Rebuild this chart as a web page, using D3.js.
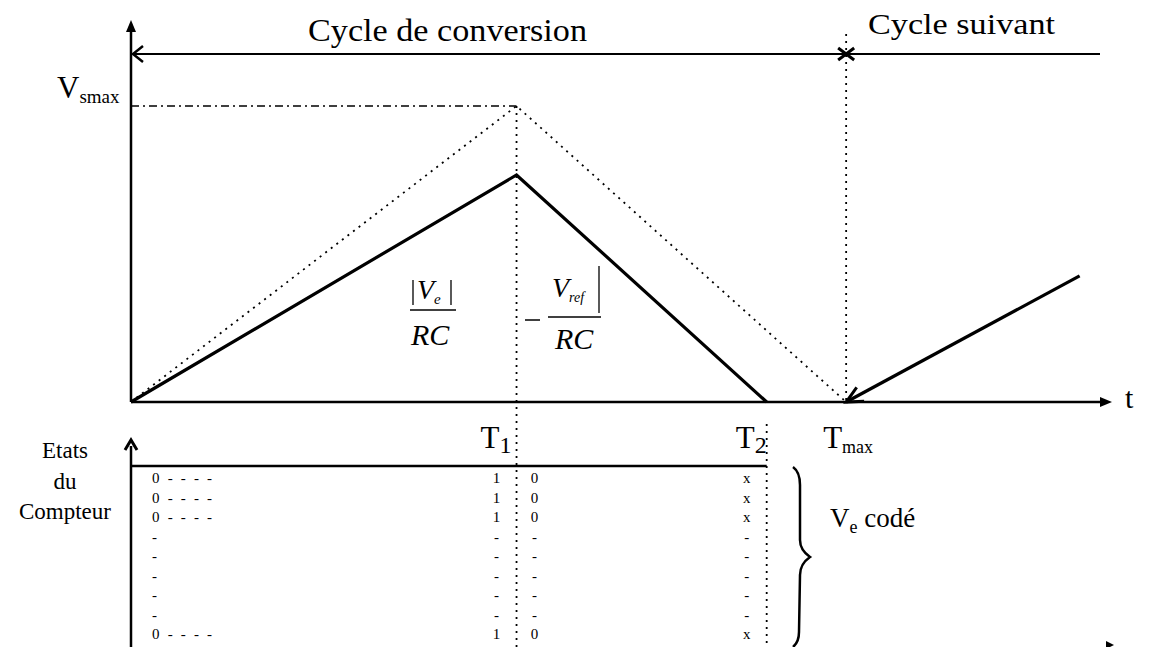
<!DOCTYPE html>
<html>
<head>
<meta charset="utf-8">
<script src="https://cdn.jsdelivr.net/npm/d3@7"></script>
<style>
  html, body { margin: 0; padding: 0; background: #fff; }
  svg { display: block; font-family: "Liberation Serif", "DejaVu Serif", serif; }
</style>
</head>
<body>
<svg id="chart" width="1152" height="647"></svg>
<script>
// Timing marks (t units) and voltage levels (Vsmax = 100)
var T1 = 39.3, T2 = 64.8, TMAX = 72.9, TNEXT = 96.7;
var VSMAX = 100, VPEAK = 76.7, VNEXT = 42.6;

// integrator output (solid) for this cycle and next cycle start
var rampActual = [[0, 0], [T1, VPEAK], [T2, 0]];
var rampMax = [[0, 0], [T1, VSMAX], [TMAX, 0]];
var rampNext = [[TMAX, 0], [TNEXT, VNEXT]];

// counter states, rows top to bottom
var colStart = ['0 - - - -', '0 - - - -', '0 - - - -', '-', '-', '-', '-', '-', '0 - - - -'];
var colT1a = ['1', '1', '1', '-', '-', '-', '-', '-', '1'];
var colT1b = ['0', '0', '0', '-', '-', '-', '-', '-', '0'];
var colT2 = ['x', 'x', 'x', '-', '-', '-', '-', '-', 'x'];

var svg = d3.select('#chart');

var x = d3.scaleLinear().domain([0, 100]).range([131, 1112]);
var y = d3.scaleLinear().domain([0, VSMAX]).range([402, 106]);
var rowY = d3.scalePoint().domain(d3.range(colStart.length)).range([478, 634]);

var line = d3.line()
  .x(function (d) { return x(d[0]); })
  .y(function (d) { return y(d[1]); });

var dotted = '2,5';

// --- upper panel ---
// vertical axis
svg.append('line').attr('x1', x(0)).attr('x2', x(0)).attr('y1', 402).attr('y2', 28)
  .attr('stroke', '#000').attr('stroke-width', 2.5);
svg.append('path').attr('d', 'M' + (x(0) - 5) + ',32L' + x(0) + ',20L' + (x(0) + 5) + ',32Z').attr('fill', '#000');

// t axis
svg.append('line').attr('x1', x(0)).attr('x2', x(100) - 8).attr('y1', y(0)).attr('y2', y(0))
  .attr('stroke', '#000').attr('stroke-width', 2.5);
svg.append('path').attr('d', 'M' + (x(100) - 12) + ',' + (y(0) - 5) + 'L' + x(100) + ',' + y(0) + 'L' + (x(100) - 12) + ',' + (y(0) + 5) + 'Z')
  .attr('fill', '#000');
svg.append('text').attr('x', 1125).attr('y', y(0) + 6).style('font-size', '30px').text('t');

// cycle arrow line
svg.append('line').attr('x1', x(0)).attr('x2', 1100).attr('y1', 54).attr('y2', 54)
  .attr('stroke', '#000').attr('stroke-width', 2.2);
svg.append('path').attr('d', 'M' + (x(0) + 12) + ',46L' + (x(0) + 2) + ',54L' + (x(0) + 12) + ',62')
  .attr('fill', 'none').attr('stroke', '#000').attr('stroke-width', 2.5);
svg.append('path').attr('d', 'M' + (x(TMAX) - 8) + ',48L' + (x(TMAX) + 8) + ',60M' + (x(TMAX) - 8) + ',60L' + (x(TMAX) + 8) + ',48')
  .attr('fill', 'none').attr('stroke', '#000').attr('stroke-width', 3);
svg.append('text').attr('x', 308).attr('y', 41).style('font-size', '31px')
  .attr('textLength', 279).attr('lengthAdjust', 'spacingAndGlyphs').text('Cycle de conversion');
svg.append('text').attr('x', 868).attr('y', 34).style('font-size', '29px')
  .attr('textLength', 187).attr('lengthAdjust', 'spacingAndGlyphs').text('Cycle suivant');

// Vsmax reference
svg.append('line').attr('x1', x(0)).attr('x2', x(T1)).attr('y1', y(VSMAX)).attr('y2', y(VSMAX))
  .attr('stroke', '#000').attr('stroke-width', 1.4).attr('stroke-dasharray', '8,4,2,4');
var vs = svg.append('text').attr('x', 57).attr('y', 98).style('font-size', '31px');
vs.append('tspan').text('V');
vs.append('tspan').attr('dy', 5).style('font-size', '19px').text('smax');

// vertical time markers
svg.append('line').attr('x1', x(T1)).attr('x2', x(T1)).attr('y1', y(VSMAX)).attr('y2', 647)
  .attr('stroke', '#000').attr('stroke-width', 1.8).attr('stroke-dasharray', dotted);
svg.append('line').attr('x1', x(TMAX)).attr('x2', x(TMAX)).attr('y1', 34).attr('y2', y(0))
  .attr('stroke', '#000').attr('stroke-width', 1.8).attr('stroke-dasharray', dotted);
svg.append('line').attr('x1', x(T2)).attr('x2', x(T2)).attr('y1', 424).attr('y2', 647)
  .attr('stroke', '#000').attr('stroke-width', 1.8).attr('stroke-dasharray', dotted);

// ramps
svg.append('path').attr('d', line(rampMax)).attr('fill', 'none')
  .attr('stroke', '#000').attr('stroke-width', 1.8).attr('stroke-dasharray', dotted);
svg.append('path').attr('d', line(rampActual)).attr('fill', 'none')
  .attr('stroke', '#000').attr('stroke-width', 3.2).attr('stroke-linejoin', 'miter');
svg.append('path').attr('d', line(rampNext)).attr('fill', 'none')
  .attr('stroke', '#000').attr('stroke-width', 3.2);
// arrowhead at Tmax on next ramp
var ang = Math.atan2(y(rampNext[1][1]) - y(0), x(rampNext[1][0]) - x(TMAX));
var ax = x(TMAX), ay = y(0);
function pt(a, r) { return (ax + r * Math.cos(a)) + ',' + (ay + r * Math.sin(a)); }
svg.append('path').attr('d', 'M' + pt(ang - 0.45, 18) + 'L' + ax + ',' + ay + 'L' + pt(ang + 0.45, 18))
  .attr('fill', 'none').attr('stroke', '#000').attr('stroke-width', 3);

// slope formulas
var f1 = svg.append('g').style('font-style', 'italic');
f1.append('line').attr('x1', 410).attr('x2', 456).attr('y1', 310).attr('y2', 310).attr('stroke', '#000').attr('stroke-width', 1.5);
f1.append('line').attr('x1', 413).attr('x2', 413).attr('y1', 280).attr('y2', 305).attr('stroke', '#000').attr('stroke-width', 1.3);
f1.append('line').attr('x1', 451).attr('x2', 451).attr('y1', 280).attr('y2', 305).attr('stroke', '#000').attr('stroke-width', 1.3);
var v1 = f1.append('text').attr('x', 417).attr('y', 299).style('font-size', '28px');
v1.append('tspan').text('V');
v1.append('tspan').attr('dy', 5).style('font-size', '15px').text('e');
f1.append('text').attr('x', 411).attr('y', 345).style('font-size', '30px').text('RC');

var f2 = svg.append('g').style('font-style', 'italic');
f2.append('line').attr('x1', 525).attr('x2', 540).attr('y1', 320).attr('y2', 320).attr('stroke', '#000').attr('stroke-width', 1.5);
f2.append('line').attr('x1', 548).attr('x2', 601).attr('y1', 317).attr('y2', 317).attr('stroke', '#000').attr('stroke-width', 1.5);
f2.append('line').attr('x1', 599).attr('x2', 599).attr('y1', 266).attr('y2', 313).attr('stroke', '#000').attr('stroke-width', 1.3);
var v2 = f2.append('text').attr('x', 552).attr('y', 297).style('font-size', '28px');
v2.append('tspan').text('V');
v2.append('tspan').attr('dy', 5).style('font-size', '14px').text('ref');
f2.append('text').attr('x', 555).attr('y', 349).style('font-size', '30px').text('RC');

// time labels
function tlabel(xp, main, sub, subSize) {
  var t = svg.append('text').attr('x', xp).attr('y', 448).style('font-size', '31px');
  t.append('tspan').text(main);
  t.append('tspan').attr('dy', 5).style('font-size', subSize).text(sub);
}
tlabel(x(T1) - 36, 'T', '1', '24px');
tlabel(x(T2) - 31, 'T', '2', '24px');
tlabel(x(TMAX) - 23, 'T', 'max', '18px');

// --- lower panel: counter states ---
svg.append('line').attr('x1', x(0)).attr('x2', x(0)).attr('y1', 647).attr('y2', 446)
  .attr('stroke', '#000').attr('stroke-width', 2.5);
svg.append('path').attr('d', 'M' + (x(0) - 6) + ',450L' + x(0) + ',440L' + (x(0) + 6) + ',450')
  .attr('fill', 'none').attr('stroke', '#000').attr('stroke-width', 3);
svg.append('line').attr('x1', x(0)).attr('x2', x(T2)).attr('y1', 466).attr('y2', 466)
  .attr('stroke', '#000').attr('stroke-width', 2.5);

['Etats', 'du', 'Compteur'].forEach(function (s, i) {
  svg.append('text').attr('x', 65).attr('y', 458 + i * 30.5).attr('text-anchor', 'middle')
    .style('font-size', '23px').text(s);
});

function column(vals, xp, anchor) {
  svg.append('g').selectAll('text').data(vals).enter().append('text')
    .attr('x', xp).attr('y', function (d, i) { return rowY(i) + 5; })
    .attr('text-anchor', anchor).style('font-size', '15px')
    .each(function (d) {
      if (d.length > 2) d3.select(this).attr('textLength', 60).attr('lengthAdjust', 'spacing');
    })
    .text(function (d) { return d; });
}
column(colStart, 152, 'start');
column(colT1a, x(T1) - 20, 'middle');
column(colT1b, x(T1) + 18, 'middle');
column(colT2, x(T2) - 20, 'middle');

// brace and label
svg.append('path')
  .attr('d', 'M793,467Q800,472 800,485L800,540Q800,550 810,557Q800,564 800,575L799,632Q799,642 793,647')
  .attr('fill', 'none').attr('stroke', '#000').attr('stroke-width', 2.5);
var vc = svg.append('text').attr('x', 830).attr('y', 527).style('font-size', '27px');
vc.append('tspan').text('V');
vc.append('tspan').attr('dy', 6).style('font-size', '18px').text('e');
vc.append('tspan').attr('dy', -6).text(' codé');

svg.append('path').attr('d', 'M1106,641L1114,645L1106,649Z').attr('fill', '#000');
</script>
</body>
</html>
